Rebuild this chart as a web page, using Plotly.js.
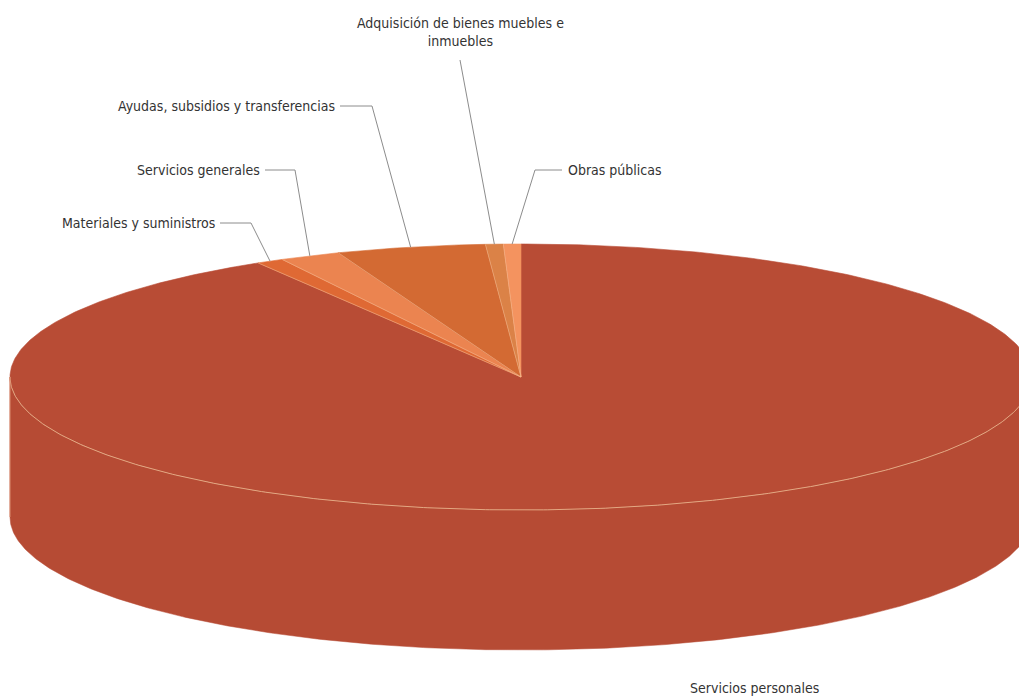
<!DOCTYPE html>
<html>
<head>
<meta charset="utf-8">
<script src="https://cdn.plot.ly/plotly-3.0.1.min.js"></script>
<style>html,body{margin:0;padding:0;background:#fff;}#chart{width:1019px;height:697px;}</style>
</head>
<body>
<div id="chart"></div>
<script>
// ---- data ----
const categories = ["Servicios personales", "Materiales y suministros", "Servicios generales",
  "Ayudas, subsidios y transferencias", "Adquisición de bienes muebles e inmuebles", "Obras públicas"];
const values = [91.40, 0.86, 1.92, 4.71, 0.56, 0.55];
const labelText = ["Servicios personales", "Materiales y suministros", "Servicios generales",
  "Ayudas, subsidios y transferencias", "Adquisición de bienes muebles e<br>inmuebles", "Obras públicas"];

// ---- style ----
const colors = ["#B84C35", "#DF6934", "#EB8450", "#D36A33", "#DB8247", "#F4935F"];
const geo = {cx: 521, cy: 377, rx: 511, ry: 133, depth: 140};
const FONT = "'Liberation Sans Narrow', 'DejaVu Sans Condensed', 'Arial Narrow', sans-serif";

function pt(deg, dy) {
  const t = deg * Math.PI / 180;
  return [geo.cx + geo.rx * Math.sin(t), geo.cy - geo.ry * Math.cos(t) + (dy || 0)];
}
function arc(a0, a1, dy) {
  const xs = [], ys = [];
  const n = Math.max(2, Math.ceil(Math.abs(a1 - a0) / 0.5));
  for (let i = 0; i <= n; i++) {
    const p = pt(a0 + (a1 - a0) * i / n, dy);
    xs.push(p[0]); ys.push(p[1]);
  }
  return [xs, ys];
}

const total = values.reduce((a, b) => a + b, 0);
const slices = [];
let acc = 0;
values.forEach((v, i) => {
  const a0 = acc / total * 360;
  acc += v;
  const a1 = acc / total * 360;
  slices.push({a0, a1, mid: (a0 + a1) / 2, i});
});

const traces = [];

// side wall (front half, all belongs to first slice)
{
  const top = arc(90, 270, 0);
  const bot = arc(270, 90, geo.depth);
  traces.push({
    x: top[0].concat(bot[0]), y: top[1].concat(bot[1]),
    type: 'scatter', mode: 'lines', fill: 'toself',
    fillcolor: "#B64B34", line: {color: "#B64B34", width: 0.5}, hoverinfo: 'skip'
  });
}

// top face slices
slices.forEach(s => {
  const a = arc(s.a0, s.a1, 0);
  traces.push({
    x: [geo.cx].concat(a[0], [geo.cx]), y: [geo.cy].concat(a[1], [geo.cy]),
    type: 'scatter', mode: 'lines', fill: 'toself',
    fillcolor: colors[s.i], line: {color: colors[s.i], width: 0.6},
    name: categories[s.i], hoverinfo: 'skip'
  });
});

// light slice edges
slices.forEach(s => {
  if (s.i === 0) return;
  const p = pt(s.a0, 0);
  traces.push({x: [geo.cx, p[0]], y: [geo.cy, p[1]], type: 'scatter', mode: 'lines',
    line: {color: "rgba(245,190,150,0.7)", width: 0.7}, hoverinfo: 'skip'});
});

// front rim highlight
{
  const r = arc(90, 270, 0);
  traces.push({x: r[0], y: r[1], type: 'scatter', mode: 'lines',
    line: {color: "#E3A882", width: 1}, hoverinfo: 'skip'});
  const l = pt(270, 0);
  traces.push({x: [l[0], l[0]], y: [l[1], l[1] + geo.depth], type: 'scatter', mode: 'lines',
    line: {color: "#D98C6E", width: 1}, hoverinfo: 'skip'});
}

// labels and leader lines
const labelPos = [
  {x: 754, y: 688, anchor: 'center', line: null},
  {x: 217, y: 223, anchor: 'right', line: [[220, 223], [251, 223]]},
  {x: 262, y: 170, anchor: 'right', line: [[265, 170], [295, 170]]},
  {x: 337, y: 106, anchor: 'right', line: [[340, 106], [372, 106]]},
  {x: 460, y: 32, anchor: 'center', line: [[460, 60]]},
  {x: 566, y: 170, anchor: 'left', line: [[562, 170], [535, 170]]}
];
const annotations = [];
slices.forEach(s => {
  const lp = labelPos[s.i];
  annotations.push({
    x: lp.x, y: lp.y, xref: 'x', yref: 'y', text: labelText[s.i], showarrow: false,
    xanchor: lp.anchor, yanchor: 'middle', align: 'center',
    font: {family: FONT, size: 14, color: "#333333"}
  });
  if (lp.line) {
    const end = pt(s.mid, 0);
    const pts = lp.line.concat([end]);
    traces.push({x: pts.map(p => p[0]), y: pts.map(p => p[1]), type: 'scatter', mode: 'lines',
      line: {color: "#8C8C8C", width: 1}, hoverinfo: 'skip'});
  }
});

const layout = {
  width: 1019, height: 697,
  margin: {l: 0, r: 0, t: 0, b: 0},
  paper_bgcolor: "#ffffff", plot_bgcolor: "#ffffff",
  showlegend: false, hovermode: false,
  xaxis: {range: [0, 1019], visible: false, fixedrange: true},
  yaxis: {range: [697, 0], visible: false, fixedrange: true},
  annotations: annotations
};

Plotly.newPlot('chart', traces, layout, {displayModeBar: false, staticPlot: true});
</script>
</body>
</html>
